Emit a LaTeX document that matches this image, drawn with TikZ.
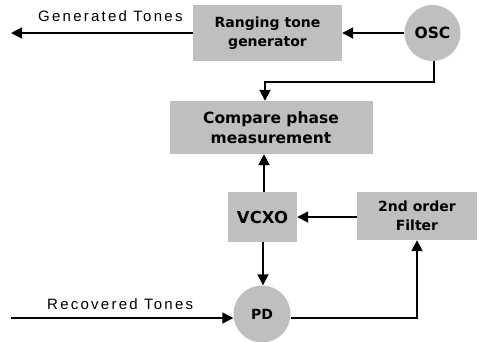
\documentclass[tikz,border=0pt]{standalone}
\usepackage{fontspec}
\setmainfont{Liberation Sans}
\newfontfamily\lblfont[LetterSpace=15]{Liberation Sans}
\newfontfamily\boxfont{DejaVu Sans}
\usetikzlibrary{arrows.meta}
\tikzset{
  blk/.style={fill=gray!50, draw=none, inner sep=0pt, font=\boxfont\bfseries\fontsize{14}{19}\selectfont, align=center},
  rbox/.style={blk, rectangle},
  cbox/.style={blk, circle},
  conn/.style={line width=1.8pt, -{Triangle[length=11pt,width=11pt]}},
  lbl/.style={font=\lblfont\fontsize{15}{17}\selectfont, inner sep=0pt, anchor=base west}
}
\begin{document}
\begin{tikzpicture}[x=1pt,y=-1pt]
\useasboundingbox (0,0) rectangle (481,341);
\node[rbox, minimum width=149pt, minimum height=56pt] (rtg) at (267.5,33) {Ranging tone\\generator};
\node[cbox, minimum size=56pt, font=\boxfont\bfseries\fontsize{15.5}{19}\selectfont] (osc) at (432.5,33) {OSC};
\node[rbox, minimum width=203pt, minimum height=53pt, font=\boxfont\bfseries\fontsize{15.5}{20}\selectfont] (cmp) at (271,127.5) {Compare phase\\measurement};
\node[rbox, minimum width=69pt, minimum height=50pt, font=\boxfont\bfseries\fontsize{16.5}{19}\selectfont] (vcxo) at (262.5,217) {VCXO};
\node[rbox, minimum width=120pt, minimum height=48pt] (flt) at (417,216) {2nd order\\Filter};
\node[cbox, minimum size=57pt] (pd) at (262,314) {PD};
\coordinate (gt) at (11,33);
\coordinate (rt) at (11,318);
\coordinate (bend) at (434,82);
\node[lbl] (gtl) at (38,21) {Generated Tones};
\node[lbl] (rtl) at (47,309) {Recovered Tones};
\draw[conn] (osc.west) -- (rtg.east |- osc.west);
\draw[conn] (rtg.west |- gt) -- (gt);
\draw[conn] (osc.south -| bend) -- (bend) -| (cmp.north -| 265,0);
\draw[conn] (vcxo.north -| 264,0) -- (cmp.south -| 264,0);
\draw[conn] (flt.west |- 0,217) -- (vcxo.east |- 0,217);
\draw[conn] (vcxo.south -| 263,0) -- (pd.north -| 263,0);
\draw[conn] (rt) -- (pd.west |- rt);
\draw[conn] (pd.east |- rt) -| (flt.south -| 417,0);
\end{tikzpicture}
\end{document}
